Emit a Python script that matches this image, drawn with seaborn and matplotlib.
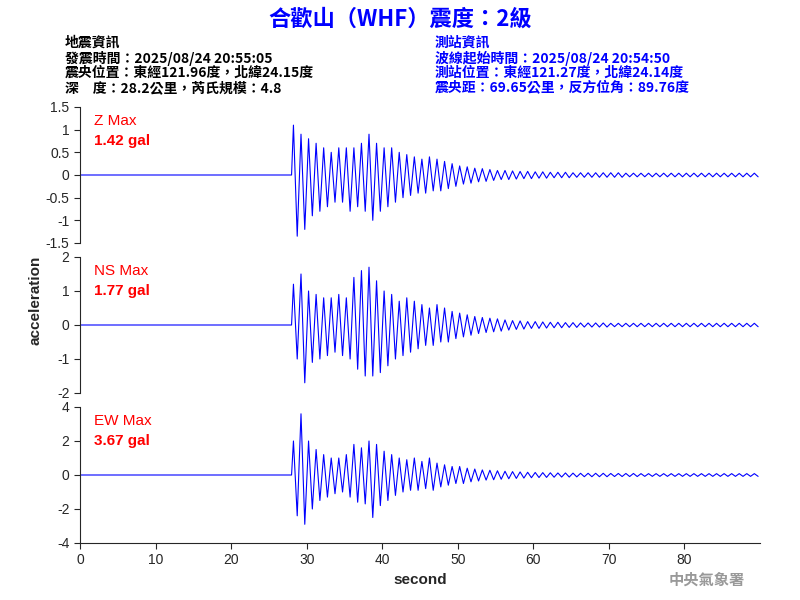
import matplotlib
matplotlib.use("Agg")
import matplotlib.pyplot as plt
import numpy as np
import pandas as pd
import seaborn as sns

sns.set_style("ticks")
plt.rcParams['font.family'] = ['Noto Sans CJK TC', 'DejaVu Sans']

# per-second peak envelope, seconds 28..89 (before 28: flat)
seconds = list(range(28, 90))
z_up = [1.1, 0.9, 0.8, 0.7, 0.6, 0.5, 0.6, 0.6, 0.6, 0.7, 0.9, 0.7, 0.6, 0.6, 0.5, 0.45,
        0.4, 0.35, 0.4, 0.35, 0.3, 0.25, 0.2, 0.18, 0.15, 0.14, 0.12, 0.1, 0.1, 0.09, 0.08, 0.08,
        0.07, 0.07, 0.06, 0.06, 0.06, 0.05, 0.05, 0.05, 0.05, 0.05, 0.05, 0.05, 0.04, 0.04, 0.04, 0.04,
        0.04, 0.04, 0.04, 0.04, 0.04, 0.04, 0.04, 0.04, 0.04, 0.04, 0.04, 0.04, 0.04, 0.04]
z_lo = [-1.35, -1.2, -0.9, -0.8, -0.7, -0.6, -0.6, -0.8, -0.7, -0.8, -1.0, -0.8, -0.7, -0.6, -0.5, -0.45,
        -0.4, -0.4, -0.35, -0.35, -0.3, -0.25, -0.2, -0.18, -0.15, -0.14, -0.12, -0.1, -0.1, -0.09, -0.08, -0.08,
        -0.07, -0.07, -0.06, -0.06, -0.06, -0.05, -0.05, -0.05, -0.05, -0.05, -0.05, -0.05, -0.04, -0.04, -0.04, -0.04,
        -0.04, -0.04, -0.04, -0.04, -0.04, -0.04, -0.04, -0.04, -0.04, -0.04, -0.04, -0.04, -0.04, -0.04]
ns_up = [1.2, 1.5, 1.0, 0.9, 0.8, 0.8, 0.9, 0.8, 1.4, 1.6, 1.7, 1.3, 1.0, 0.9, 0.7, 0.8,
         0.7, 0.6, 0.5, 0.6, 0.5, 0.4, 0.35, 0.3, 0.25, 0.22, 0.2, 0.18, 0.15, 0.13, 0.12, 0.1,
         0.1, 0.09, 0.08, 0.08, 0.07, 0.07, 0.06, 0.06, 0.06, 0.06, 0.05, 0.05, 0.05, 0.05, 0.05, 0.05,
         0.05, 0.05, 0.05, 0.05, 0.05, 0.05, 0.05, 0.05, 0.05, 0.05, 0.05, 0.05, 0.05, 0.05]
ns_lo = [-1.0, -1.7, -1.1, -1.0, -0.9, -0.8, -0.9, -1.0, -1.3, -1.5, -1.5, -1.4, -1.2, -1.0, -0.9, -0.8,
         -0.7, -0.6, -0.6, -0.5, -0.5, -0.4, -0.35, -0.3, -0.25, -0.22, -0.2, -0.18, -0.15, -0.13, -0.12, -0.1,
         -0.1, -0.09, -0.08, -0.08, -0.07, -0.07, -0.06, -0.06, -0.06, -0.06, -0.05, -0.05, -0.05, -0.05, -0.05, -0.05,
         -0.05, -0.05, -0.05, -0.05, -0.05, -0.05, -0.05, -0.05, -0.05, -0.05, -0.05, -0.05, -0.05, -0.05]
ew_up = [2.0, 3.6, 2.0, 1.5, 1.2, 1.0, 1.0, 1.2, 1.8, 1.6, 2.0, 1.8, 1.4, 1.2, 1.0, 0.9,
         1.0, 0.8, 1.0, 0.7, 0.6, 0.5, 0.5, 0.4, 0.35, 0.3, 0.28, 0.25, 0.22, 0.2, 0.18, 0.16,
         0.15, 0.14, 0.13, 0.12, 0.12, 0.11, 0.1, 0.1, 0.1, 0.1, 0.09, 0.09, 0.09, 0.09, 0.08, 0.08,
         0.08, 0.08, 0.08, 0.08, 0.08, 0.08, 0.08, 0.08, 0.08, 0.08, 0.08, 0.08, 0.08, 0.08]
ew_lo = [-2.4, -2.9, -2.0, -1.5, -1.3, -1.1, -1.0, -1.3, -1.6, -1.7, -2.5, -1.8, -1.5, -1.2, -1.0, -0.9,
         -0.9, -0.8, -0.9, -0.7, -0.6, -0.5, -0.5, -0.4, -0.35, -0.3, -0.28, -0.25, -0.22, -0.2, -0.18, -0.16,
         -0.15, -0.14, -0.13, -0.12, -0.12, -0.11, -0.1, -0.1, -0.1, -0.1, -0.09, -0.09, -0.09, -0.09, -0.08, -0.08,
         -0.08, -0.08, -0.08, -0.08, -0.08, -0.08, -0.08, -0.08, -0.08, -0.08, -0.08, -0.08, -0.08, -0.08]

panels = [
    ("Z Max", "1.42 gal", z_up, z_lo, (-1.5, 1.5), [-1.5, -1, -0.5, 0, 0.5, 1, 1.5]),
    ("NS Max", "1.77 gal", ns_up, ns_lo, (-2, 2), [-2, -1, 0, 1, 2]),
    ("EW Max", "3.67 gal", ew_up, ew_lo, (-4, 4), [-4, -2, 0, 2, 4]),
]

fig = plt.figure(figsize=(8, 6), dpi=100)
tops = [107, 257, 407]
for k, (name, peak, up, lo, ylim, yt) in enumerate(panels):
    ax = fig.add_axes([80 / 800, 1 - (tops[k] + 136) / 600, 680 / 800, 136 / 600])
    # zigzag: peak up at t, peak down at t+0.5
    xs = [0.0, 28.0]
    ys = [0.0, 0.0]
    for t, u, l in zip(seconds, up, lo):
        xs += [t + 0.25, t + 0.75]
        ys += [u, l]
    df = pd.DataFrame({"t": xs, "a": ys})
    sns.lineplot(data=df, x="t", y="a", ax=ax, color="blue", lw=0.8, sort=False)
    ax.set_xlim(0, 90)
    ax.set_ylim(*ylim)
    ax.set_yticks(yt)
    ax.set_yticklabels([f"{v:g}" for v in yt], fontsize=10, family="Liberation Sans")
    ax.set_ylabel("")
    ax.set_xlabel("")
    sns.despine(ax=ax)
    ax.tick_params(direction="out", length=4)
    ax.text(0.02, 0.95, name, transform=ax.transAxes, color="red", fontsize=11,
            va="top", family="Liberation Sans")
    ax.text(0.02, 0.80, peak, transform=ax.transAxes, color="red", fontsize=11,
            va="top", family="Liberation Sans", fontweight="bold")
    if k < 2:
        ax.spines["bottom"].set_visible(False)
        ax.set_xticks([])
    else:
        ax.set_xticks(range(0, 90, 10))
        ax.set_xticklabels([str(v) for v in range(0, 90, 10)], fontsize=10, family="Liberation Sans")
        ax.set_xlabel("second", fontsize=11, fontweight="bold", family="Liberation Sans")

fig.text(0.045, 0.5, "acceleration", rotation=90, va="center", ha="center",
         fontsize=11, fontweight="bold", family="Liberation Sans")

fig.text(0.5, 0.968, "合歡山（WHF）震度：2級", ha="center", va="center",
         color="blue", fontsize=16, fontweight="bold")
left = ["地震資訊", "發震時間：2025/08/24 20:55:05",
        "震央位置：東經121.96度，北緯24.15度", "深　度：28.2公里，芮氏規模：4.8"]
right = ["測站資訊", "波線起始時間：2025/08/24 20:54:50",
         "測站位置：東經121.27度，北緯24.14度", "震央距：69.65公里，反方位角：89.76度"]
for i, (a, b) in enumerate(zip(left, right)):
    y = 1 - (43 + i * 15) / 600
    fig.text(65 / 800, y, a, fontsize=10, fontweight="bold", va="center", color="black")
    fig.text(435 / 800, y, b, fontsize=10, fontweight="bold", va="center", color="blue")
fig.text(745 / 800, 1 - 580 / 600, "中央氣象署", ha="right", va="center",
         fontsize=11, fontweight="bold", color="#999999")

fig.savefig("out.png", dpi=100)
